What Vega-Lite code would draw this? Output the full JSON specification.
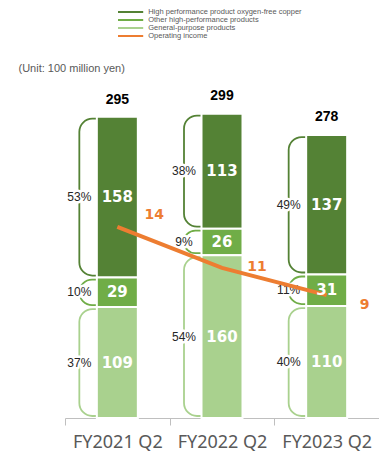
{
  "$schema": "https://vega.github.io/schema/vega-lite/v6.json",
  "width": 314,
  "height": 330,
  "autosize": {"type": "none"},
  "padding": {"left": 65, "top": 88, "right": 0, "bottom": 36},
  "background": "white",
  "config": {
    "view": {"stroke": null},
    "font": "Liberation Sans",
    "axisX": {"labelFont": "Noto Sans", "labelFontSize": 18, "labelColor": "#595959", "domainColor": "#BFBFBF", "tickColor": "#BFBFBF", "tickBand": "extent", "tickSize": 7, "labelPadding": 8, "labelAngle": 0, "grid": false},
    "axisY": {"titleAngle": 0, "titleAlign": "left", "titleBaseline": "middle", "titleX": -47, "titleY": -20, "titleFont": "Liberation Sans", "titleFontSize": 11, "titleFontWeight": "normal", "titleColor": "#595959", "labels": false, "ticks": false, "domain": false, "grid": false}
  },
  "datasets": {
    "segments": [
      {"period": "FY2021 Q2", "series": "High performance product oxygen-free copper", "rank": 3, "value": 158, "share": "53%"},
      {"period": "FY2021 Q2", "series": "Other high-performance products", "rank": 2, "value": 29, "share": "10%"},
      {"period": "FY2021 Q2", "series": "General-purpose products", "rank": 1, "value": 109, "share": "37%"},
      {"period": "FY2022 Q2", "series": "High performance product oxygen-free copper", "rank": 3, "value": 113, "share": "38%"},
      {"period": "FY2022 Q2", "series": "Other high-performance products", "rank": 2, "value": 26, "share": "9%"},
      {"period": "FY2022 Q2", "series": "General-purpose products", "rank": 1, "value": 160, "share": "54%"},
      {"period": "FY2023 Q2", "series": "High performance product oxygen-free copper", "rank": 3, "value": 137, "share": "49%"},
      {"period": "FY2023 Q2", "series": "Other high-performance products", "rank": 2, "value": 31, "share": "11%"},
      {"period": "FY2023 Q2", "series": "General-purpose products", "rank": 1, "value": 110, "share": "40%"}
    ],
    "totals": [
      {"period": "FY2021 Q2", "total": 295},
      {"period": "FY2022 Q2", "total": 299},
      {"period": "FY2023 Q2", "total": 278}
    ],
    "income": [
      {"period": "FY2021 Q2", "income": 14},
      {"period": "FY2022 Q2", "income": 11},
      {"period": "FY2023 Q2", "income": 9}
    ]
  },
  "encoding": {
    "x": {"field": "period", "type": "nominal", "title": null, "scale": {"domain": ["FY2021 Q2", "FY2022 Q2", "FY2023 Q2"], "paddingInner": 0, "paddingOuter": 0}}
  },
  "layer": [
    {
      "data": {"name": "segments"},
      "transform": [
        {"stack": "value", "groupby": ["period"], "sort": [{"field": "rank", "order": "ascending"}], "as": ["y0", "y1"]},
        {"calculate": "(datum.y0 + datum.y1) / 2", "as": "mid"}
      ],
      "layer": [
        {
          "mark": {"type": "bar", "filled": false, "size": 40, "xOffset": -18, "cornerRadius": 13, "strokeWidth": 1.8, "yOffset": -2, "y2Offset": 2},
          "encoding": {
            "y": {"field": "y0", "type": "quantitative", "title": "(Unit: 100 million yen)", "scale": {"domain": [0, 324.2], "nice": false}},
            "y2": {"field": "y1"},
            "stroke": {
              "field": "series", "type": "nominal",
              "scale": {"domain": ["High performance product oxygen-free copper", "Other high-performance products", "General-purpose products", "Operating income"], "range": ["#548235", "#70AD47", "#A9D18E", "#ED7D31"]},
              "legend": {
                "orient": "none", "legendX": 61.6, "legendY": -80, "title": null,
                "symbolType": "M-4.2,0H4.2", "symbolSize": 36, "symbolStrokeWidth": 2,
                "labelFontSize": 7.5, "labelColor": "#595959", "labelFont": "Liberation Sans", "labelOffset": 13.6,
                "rowPadding": 0, "padding": 0, "labelLimit": 300,
                "encode": {"symbols": {"update": {"strokeWidth": {"signal": "datum.value === 'Operating income' ? 3 : 2"}}}}
              }
            }
          }
        },
        {
          "mark": {"type": "bar", "size": 41, "stroke": "white", "strokeWidth": 2},
          "encoding": {
            "y": {"field": "y1", "type": "quantitative", "title": "(Unit: 100 million yen)", "scale": {"domain": [0, 324.2], "nice": false}},
            "y2": {"field": "y0"},
            "color": {
              "field": "series", "type": "nominal", "legend": null,
              "scale": {"domain": ["High performance product oxygen-free copper", "Other high-performance products", "General-purpose products"], "range": ["#548235", "#70AD47", "#A9D18E"]}
            }
          }
        },
        {
          "mark": {"type": "text", "dx": -38, "fontSize": 12, "font": "Liberation Sans", "fill": "white", "stroke": "white", "strokeWidth": 5, "strokeJoin": "round"},
          "encoding": {
            "y": {"field": "mid", "type": "quantitative", "title": "(Unit: 100 million yen)", "scale": {"domain": [0, 324.2], "nice": false}},
            "text": {"field": "share"}
          }
        },
        {
          "mark": {"type": "text", "dx": -38, "fontSize": 12, "font": "Liberation Sans", "color": "#262626"},
          "encoding": {
            "y": {"field": "mid", "type": "quantitative", "title": "(Unit: 100 million yen)", "scale": {"domain": [0, 324.2], "nice": false}},
            "text": {"field": "share"}
          }
        }
      ]
    },
    {
      "data": {"name": "income"},
      "layer": [
        {
          "mark": {"type": "line", "color": "#ED7D31", "strokeWidth": 4},
          "encoding": {
            "y": {"field": "income", "type": "quantitative", "scale": {"domain": [0, 24.18], "nice": false}, "axis": null}
          }
        }
      ]
    },
    {
      "data": {"name": "segments"},
      "transform": [
        {"stack": "value", "groupby": ["period"], "sort": [{"field": "rank", "order": "ascending"}], "as": ["y0", "y1"]},
        {"calculate": "(datum.y0 + datum.y1) / 2", "as": "mid"}
      ],
      "mark": {"type": "text", "fontSize": 15, "font": "DejaVu Sans", "fontWeight": "bold", "color": "white"},
      "encoding": {
        "y": {"field": "mid", "type": "quantitative", "scale": {"domain": [0, 324.2], "nice": false}, "axis": null},
        "text": {"field": "value"}
      }
    },
    {
      "data": {"name": "totals"},
      "mark": {"type": "text", "fontSize": 14, "font": "Liberation Sans", "fontWeight": "bold", "color": "black", "dy": -18},
      "encoding": {
        "y": {"field": "total", "type": "quantitative", "scale": {"domain": [0, 324.2], "nice": false}, "axis": null},
        "text": {"field": "total"}
      }
    },
    {
      "data": {"name": "income"},
      "layer": [
        {
          "transform": [{"filter": "datum.period === 'FY2021 Q2'"}],
          "mark": {"type": "text", "fontSize": 14, "font": "DejaVu Sans", "fontWeight": "bold", "color": "#ED7D31", "dx": 37, "dy": -12}
        },
        {
          "transform": [{"filter": "datum.period === 'FY2022 Q2'"}],
          "mark": {"type": "text", "fontSize": 14, "font": "DejaVu Sans", "fontWeight": "bold", "color": "#ED7D31", "dx": 35, "dy": -1}
        },
        {
          "transform": [{"filter": "datum.period === 'FY2023 Q2'"}],
          "mark": {"type": "text", "fontSize": 14, "font": "DejaVu Sans", "fontWeight": "bold", "color": "#ED7D31", "dx": 38, "dy": 10}
        }
      ],
      "encoding": {
        "y": {"field": "income", "type": "quantitative", "scale": {"domain": [0, 24.18], "nice": false}, "axis": null},
        "text": {"field": "income"}
      }
    }
  ],
  "resolve": {"scale": {"y": "independent"}}
}
